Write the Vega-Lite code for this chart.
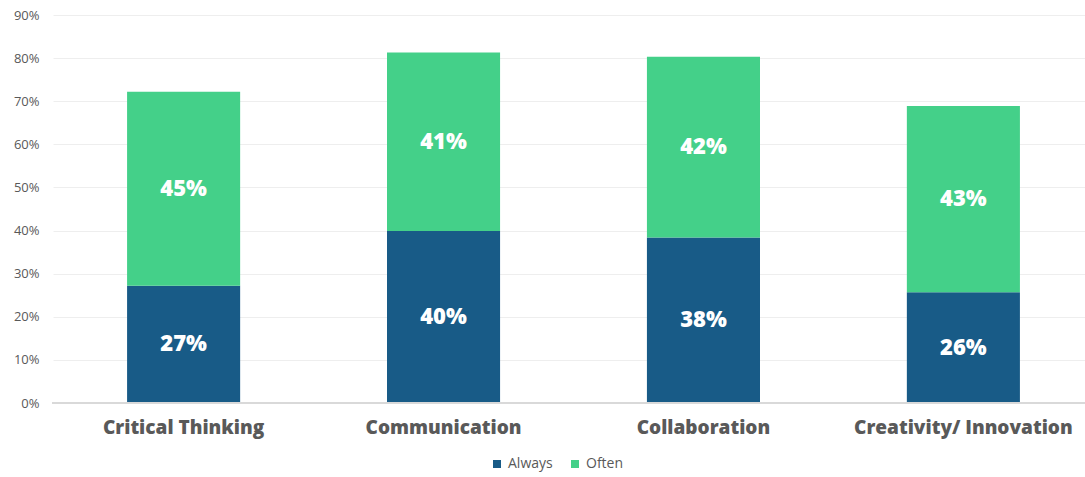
{
  "$schema": "https://vega.github.io/schema/vega-lite/v6.json",
  "width": 1032,
  "height": 388,
  "autosize": {"type": "none"},
  "padding": {"left": 53, "top": 15, "right": 0, "bottom": 74},
  "background": "white",
  "config": {"view": {"stroke": null}, "font": "Open Sans"},
  "data": {"values": [
    {"skill": "Critical Thinking", "type": "Always", "value": 0.272, "order": 1},
    {"skill": "Critical Thinking", "type": "Often", "value": 0.450, "order": 2},
    {"skill": "Communication", "type": "Always", "value": 0.399, "order": 1},
    {"skill": "Communication", "type": "Often", "value": 0.414, "order": 2},
    {"skill": "Collaboration", "type": "Always", "value": 0.384, "order": 1},
    {"skill": "Collaboration", "type": "Often", "value": 0.419, "order": 2},
    {"skill": "Creativity/ Innovation", "type": "Always", "value": 0.257, "order": 1},
    {"skill": "Creativity/ Innovation", "type": "Often", "value": 0.432, "order": 2}
  ]},
  "transform": [
    {"stack": "value", "groupby": ["skill"], "sort": [{"field": "order"}], "as": ["v0", "v1"]},
    {"calculate": "(datum.v0 + datum.v1) / 2", "as": "mid"}
  ],
  "encoding": {
    "x": {
      "field": "skill", "type": "nominal", "sort": null,
      "scale": {"range": [0, 1041], "paddingInner": 0.565, "paddingOuter": 0.285},
      "axis": {"title": null, "labelAngle": 0, "labelLimit": 0, "labelFont": "Open Sans", "labelFontWeight": 800, "labelFontSize": 19, "labelColor": "#595959", "labelPadding": 15, "ticks": false, "domain": false}
    }
  },
  "layer": [
    {
      "mark": {"type": "bar"},
      "encoding": {
        "y": {"field": "v0", "type": "quantitative", "scale": {"domain": [0, 0.9]},
          "axis": {"title": null, "format": ".0%", "values": [0,0.1,0.2,0.3,0.4,0.5,0.6,0.7,0.8,0.9], "labelOverlap": false, "labelFontSize": 13, "labelColor": "#595959", "labelPadding": 14, "ticks": false, "domain": false, "gridColor": "#eeeeee", "gridWidth": 1}},
        "y2": {"field": "v1"},
        "color": {"field": "type", "type": "nominal",
          "scale": {"domain": ["Always", "Often"], "range": ["#185b87", "#44d089"]},
          "legend": {"title": null, "orient": "none", "legendX": 437, "legendY": 442, "direction": "horizontal", "symbolType": "square", "symbolSize": 64, "symbolStrokeWidth": 0, "labelOffset": 4, "labelFontSize": 14, "labelColor": "#595959", "columnPadding": 15}}
      }
    },
    {
      "mark": {"type": "rule", "color": "#d9d9d9", "strokeWidth": 1.5},
      "encoding": {"y": {"datum": 0}, "x": {"value": -1}, "x2": {"value": 1032}}
    },
    {
      "mark": {"type": "text", "color": "white", "fontWeight": 800, "fontSize": 22, "font": "Open Sans", "baseline": "middle"},
      "encoding": {
        "y": {"field": "mid", "type": "quantitative",
          "axis": {"title": null, "format": ".0%", "values": [0,0.1,0.2,0.3,0.4,0.5,0.6,0.7,0.8,0.9], "labelOverlap": false, "labelFontSize": 13, "labelColor": "#595959", "labelPadding": 14, "ticks": false, "domain": false, "gridColor": "#eeeeee", "gridWidth": 1}},
        "text": {"field": "value", "type": "quantitative", "format": ".0%"}
      }
    }
  ]
}
